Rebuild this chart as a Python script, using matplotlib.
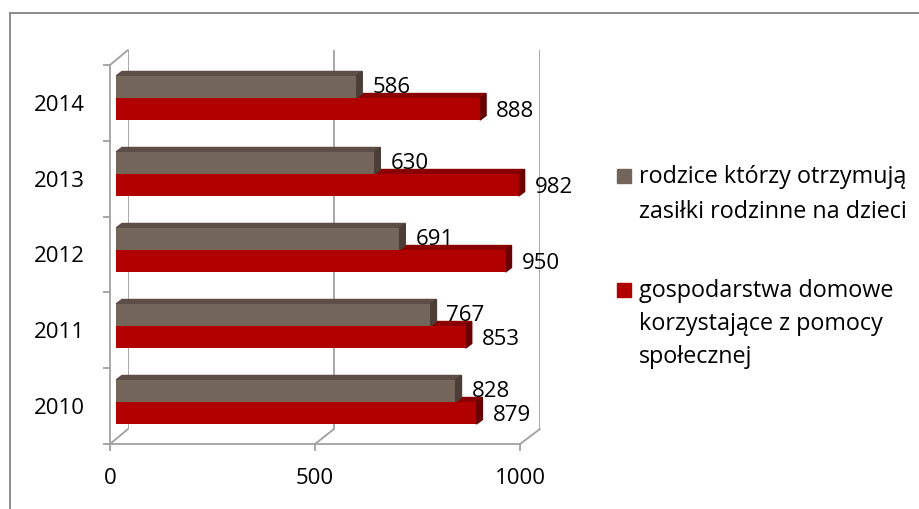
import matplotlib
matplotlib.use('Agg')
import matplotlib.pyplot as plt
from matplotlib.patches import ConnectionPatch, Rectangle, Polygon
from matplotlib.lines import Line2D

plt.rcParams['font.family'] = ['Open Sans', 'DejaVu Sans']

# dane
years = ['2010', '2011', '2012', '2013', '2014']
rodzice = [828, 767, 691, 630, 586]
gospodarstwa = [879, 853, 950, 982, 888]
x_ticks = [0, 500, 1000]
legend_labels = ['rodzice którzy otrzymują\nzasiłki rodzinne na dzieci',
                 'gospodarstwa domowe\nkorzystające z pomocy\nspołecznej']

W, H = 919, 509
fs = 16
fs_leg = 16.8
line_col = '#a0a0a0'
gray, gray_top, gray_side = '#74655b', '#5c4e46', '#4a3e37'
red, red_top, red_side = '#b00000', '#8a0000', '#6a0000'

fig = plt.figure(figsize=(W / 100, H / 100), dpi=100)


def px_axes(l, t, r, b):
    return fig.add_axes([l / W, 1 - b / H, (r - l) / W, (b - t) / H])


# ramka wykresu (tylko lewa i górna krawędź widoczna)
fig.add_artist(Line2D([10 / W, 10 / W], [0, 1 - 13 / H], transform=fig.transFigure,
                      color='#8c8c8c', lw=1.4))
fig.add_artist(Line2D([10 / W, 1], [1 - 13 / H, 1 - 13 / H], transform=fig.transFigure,
                      color='#8c8c8c', lw=1.4))

# tylna ściana
ax_b = px_axes(128, 50, 540, 429)
ax_b.set_xlim(0, 1000)
ax_b.set_ylim(-0.5, 4.5)
ax_b.axis('off')
ax_b.vlines(x_ticks, -0.5, 4.5, color=line_col, lw=1.3)

# przednia płaszczyzna (osie)
ax_f = px_axes(110, 65, 520, 444)
ax_f.set_xlim(0, 1000)
ax_f.set_ylim(-0.5, 4.5)
ax_f.patch.set_visible(False)
for s in ['top', 'right']:
    ax_f.spines[s].set_visible(False)
for s in ['left', 'bottom']:
    ax_f.spines[s].set_color(line_col)
    ax_f.spines[s].set_linewidth(1.3)
ax_f.set_yticks(range(len(years)))
ax_f.set_yticklabels(years, fontsize=fs)
ax_f.set_yticks([i - 0.5 for i in range(len(years) + 1)], minor=True)
ax_f.tick_params(axis='y', which='major', length=0, pad=18)
ax_f.tick_params(axis='y', which='minor', length=5, width=1.3, color=line_col, direction='out')
ax_f.set_xticks(x_ticks)
ax_f.set_xticklabels([str(t) for t in x_ticks], fontsize=fs)
ax_f.tick_params(axis='x', length=5, width=1.3, color=line_col, direction='out', pad=12)

# połączenia przód-tył (efekt 3D)
for x in x_ticks:
    fig.add_artist(ConnectionPatch(xyA=(x, -0.5), coordsA=ax_f.transData,
                                   xyB=(x, -0.5), coordsB=ax_b.transData,
                                   color=line_col, lw=1.3))
fig.add_artist(ConnectionPatch(xyA=(0, 4.5), coordsA=ax_f.transData,
                               xyB=(0, 4.5), coordsB=ax_b.transData,
                               color=line_col, lw=1.3))

# słupki
ax = px_axes(116, 60, 526, 440)
ax.set_xlim(0, 1000)
ax.set_ylim(-0.5, 4.5)
ax.axis('off')
h = 0.29
pos = list(range(len(years)))
dx, dy = 6, 4.5  # głębokość słupka w pikselach

fig.canvas.draw()
ax.barh([p - h / 2 for p in pos], gospodarstwa, height=h, color=red, zorder=3)
ax.barh([p + h / 2 for p in pos], rodzice, height=h, color=gray, zorder=3)

# górna i boczna ściana każdego słupka
for p in list(ax.patches):
    x0, y0 = ax.transData.transform((p.get_x(), p.get_y()))
    x1, y1 = ax.transData.transform((p.get_x() + p.get_width(), p.get_y() + p.get_height()))
    is_gray = p.get_facecolor()[0] < 0.6
    top = gray_top if is_gray else red_top
    side = gray_side if is_gray else red_side
    z = 2.6 if is_gray else 2
    ax.add_patch(Polygon([(x0, y1), (x1, y1), (x1 + dx, y1 + dy), (x0 + dx, y1 + dy)],
                         closed=True, color=top, transform=None, zorder=z))
    ax.add_patch(Polygon([(x1, y0), (x1, y1), (x1 + dx, y1 + dy), (x1 + dx, y0 + dy)],
                         closed=True, color=side, transform=None, zorder=z))

for p, v in zip(pos, rodzice):
    ax.annotate(str(v), (v, p + h / 2), xytext=(16, -1), textcoords='offset pixels',
                ha='left', va='center', fontsize=fs, zorder=5)
for p, v in zip(pos, gospodarstwa):
    ax.annotate(str(v), (v, p - h / 2), xytext=(16, -2), textcoords='offset pixels',
                ha='left', va='center', fontsize=fs, zorder=5)

# legenda
leg_colors = [gray, red]
leg_baselines = [[183, 218], [297, 330, 363]]
for lab, col, bases in zip(legend_labels, leg_colors, leg_baselines):
    fig.add_artist(Rectangle((617 / W, 1 - bases[0] / H), 14 / W, 14 / H,
                             transform=fig.transFigure, color=col))
    for line, yb in zip(lab.split('\n'), bases):
        fig.text(639 / W, 1 - yb / H, line, fontsize=fs_leg, va='baseline', ha='left')

fig.savefig('out.png', dpi=100)
